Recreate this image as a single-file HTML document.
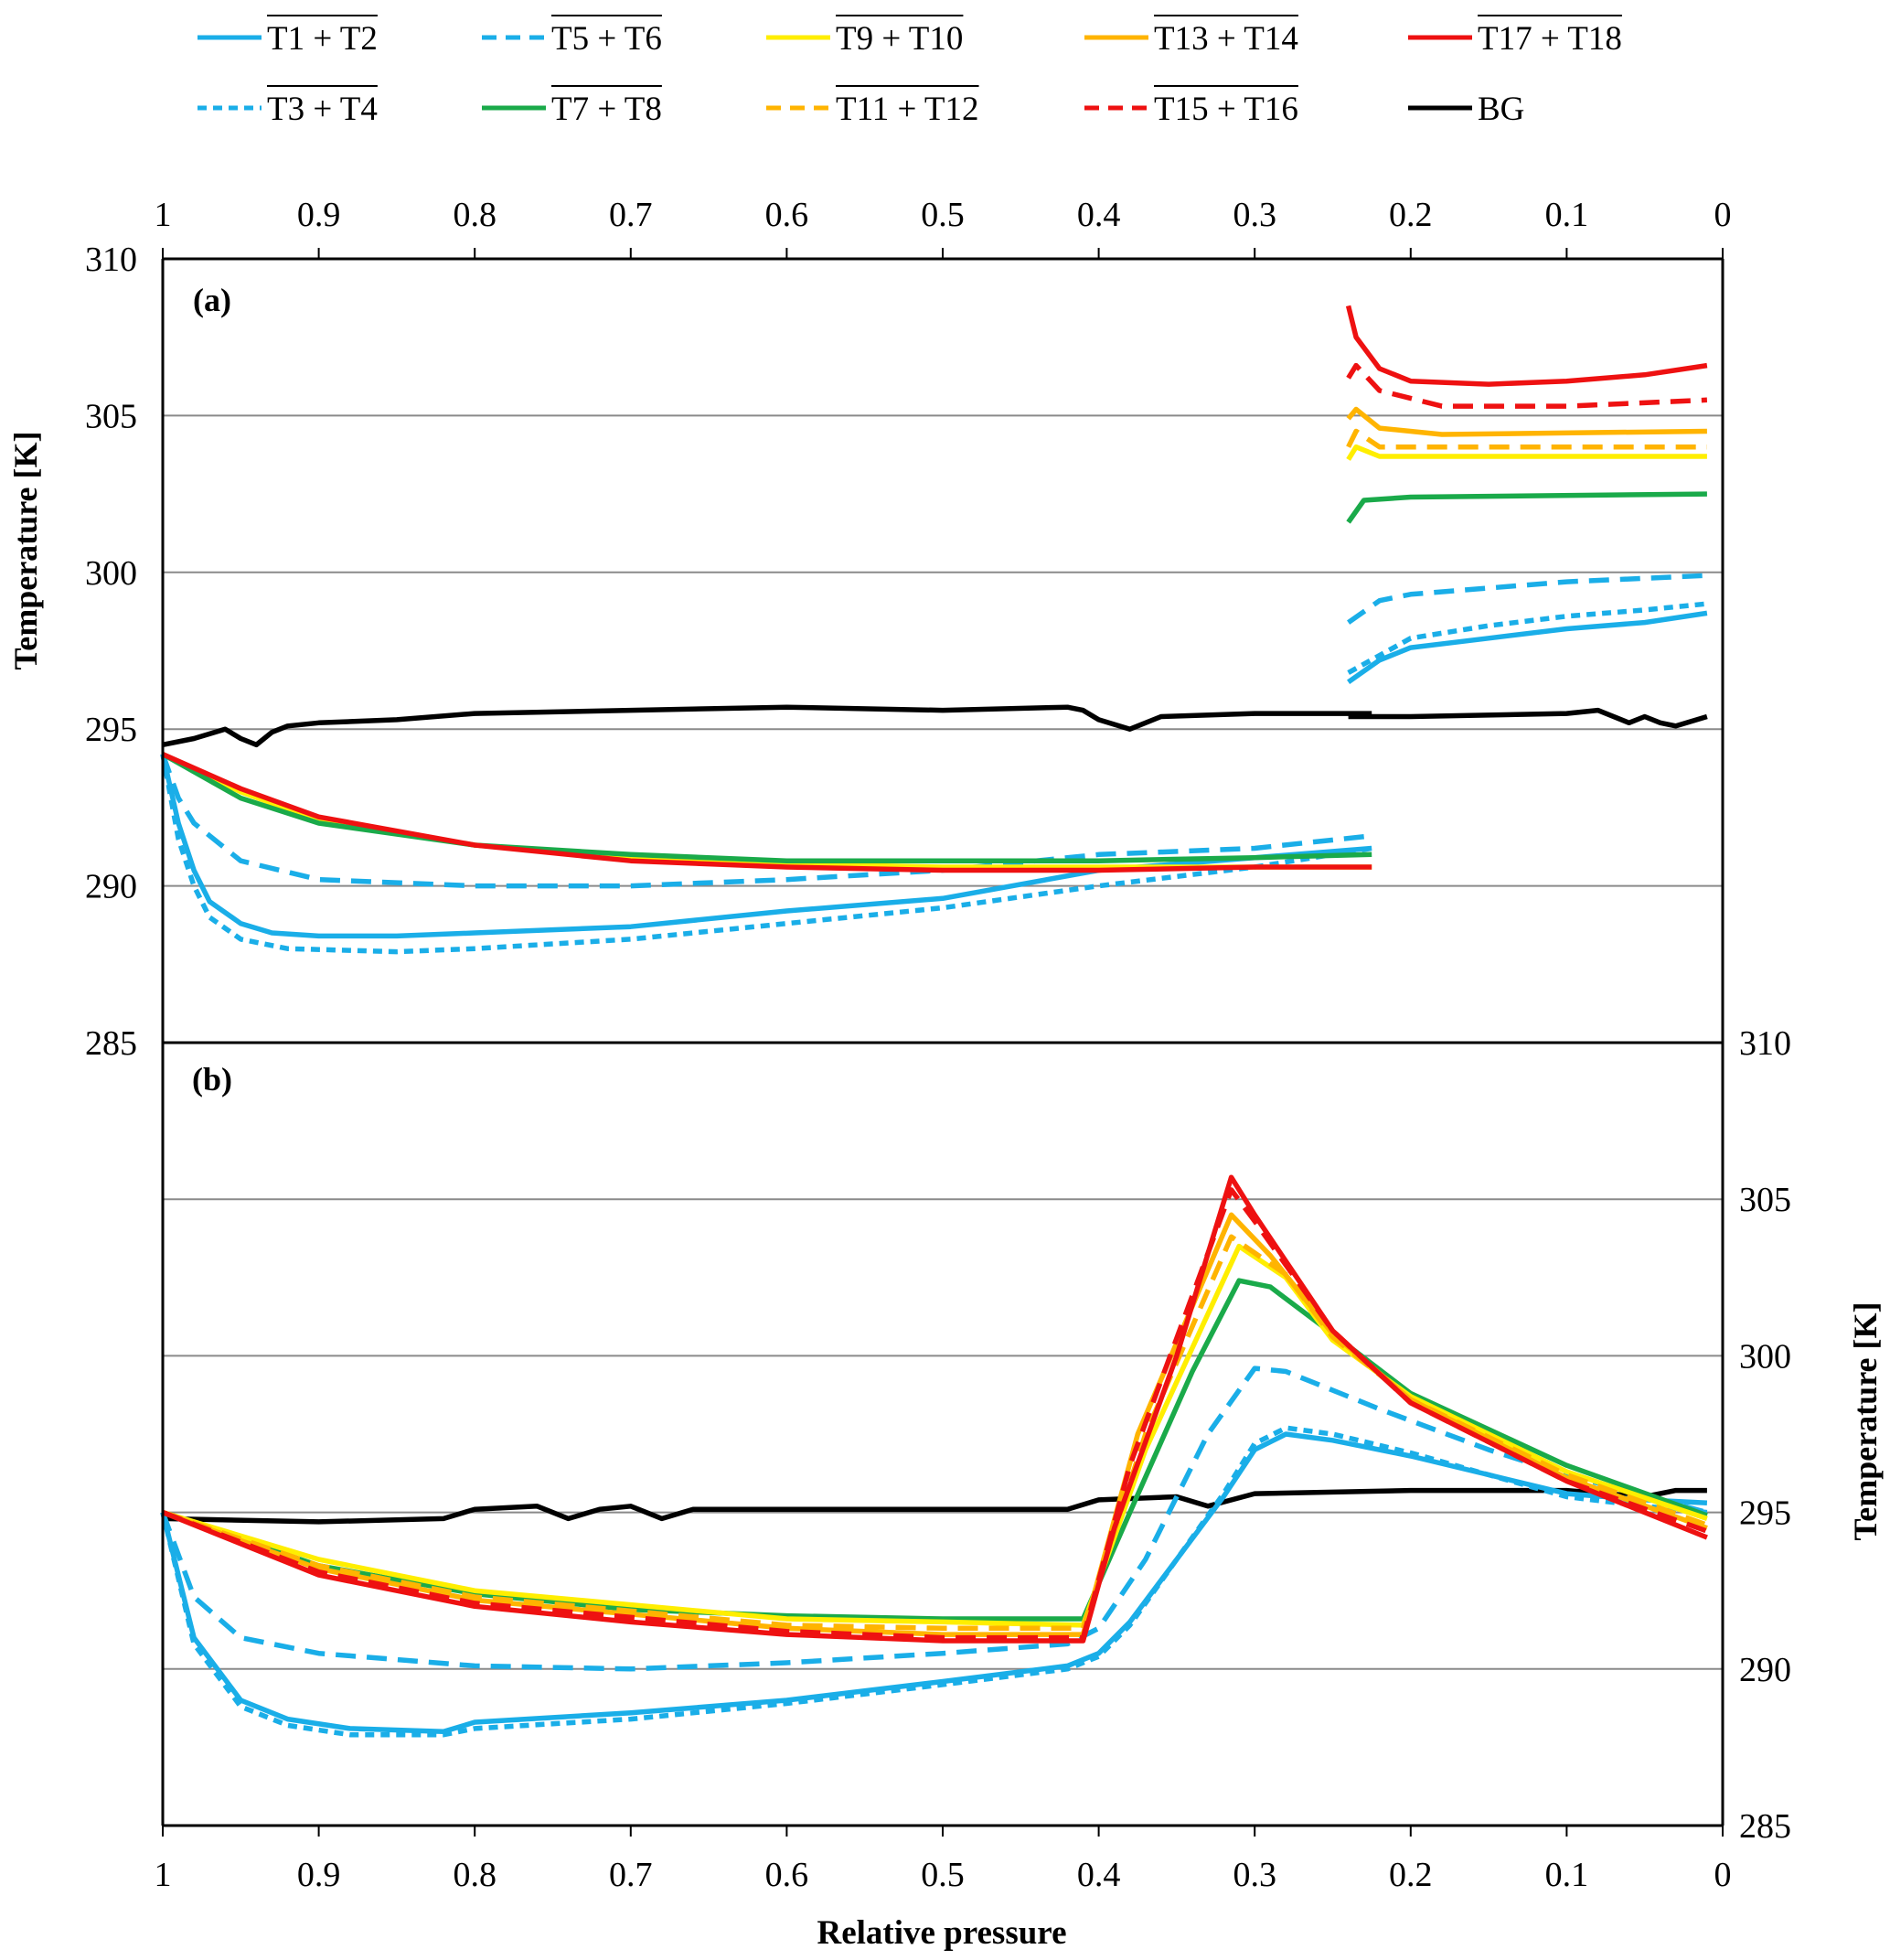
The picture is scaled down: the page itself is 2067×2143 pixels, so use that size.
<!DOCTYPE html>
<html><head><meta charset="utf-8"><style>
body{margin:0;background:#fff}
svg{display:block;font-family:"Liberation Serif",serif}
</style></head><body>
<svg id="c" width="2067" height="2143" viewBox="0 0 2067 2143"></svg>
<script>
// ---- data: relative pressure (p) and temperature (T) ----
const pressureTicks=[1,0.9,0.8,0.7,0.6,0.5,0.4,0.3,0.2,0.1,0];
const tempTicks=[285,290,295,300,305,310];
// Panel (a)
const a_bg1_p=[1,0.98,0.96,0.95,0.94,0.93,0.92,0.9,0.85,0.8,0.7,0.6,0.5,0.42,0.41,0.4,0.38,0.36,0.3,0.225];
const a_bg1_T=[294.5,294.7,295.0,294.7,294.5,294.9,295.1,295.2,295.3,295.5,295.6,295.7,295.6,295.7,295.6,295.3,295.0,295.4,295.5,295.5];
const a_bg2_p=[0.24,0.2,0.1,0.08,0.06,0.05,0.04,0.03,0.01];
const a_bg2_T=[295.4,295.4,295.5,295.6,295.2,295.4,295.2,295.1,295.4];
const a_t12_p=[1,0.99,0.98,0.97,0.95,0.93,0.9,0.85,0.8,0.7,0.6,0.5,0.4,0.3,0.225];
const a_t12_T=[294.2,292,290.5,289.5,288.8,288.5,288.4,288.4,288.5,288.7,289.2,289.6,290.5,290.9,291.2];
const a_t12b_p=[0.24,0.22,0.2,0.15,0.1,0.05,0.01];
const a_t12b_T=[296.5,297.2,297.6,297.9,298.2,298.4,298.7];
const a_t34_p=[1,0.99,0.98,0.97,0.95,0.92,0.85,0.8,0.7,0.6,0.5,0.4,0.3,0.225];
const a_t34_T=[294.2,291.5,290,289,288.3,288.0,287.9,288.0,288.3,288.8,289.3,290.0,290.6,291.2];
const a_t34b_p=[0.24,0.2,0.15,0.1,0.05,0.01];
const a_t34b_T=[296.8,297.9,298.3,298.6,298.8,299.0];
const a_t56_p=[1,0.99,0.98,0.95,0.9,0.8,0.7,0.6,0.5,0.4,0.3,0.225];
const a_t56_T=[294.2,292.8,292,290.8,290.2,290.0,290.0,290.2,290.5,291.0,291.2,291.6];
const a_t56b_p=[0.24,0.22,0.2,0.1,0.01];
const a_t56b_T=[298.4,299.1,299.3,299.7,299.9];
const a_t78_p=[1,0.95,0.9,0.8,0.7,0.6,0.5,0.4,0.3,0.225];
const a_t78_T=[294.2,292.8,292.0,291.3,291.0,290.8,290.8,290.8,290.9,291.0];
const a_t78b_p=[0.24,0.23,0.2,0.01];
const a_t78b_T=[301.6,302.3,302.4,302.5];
const a_t910_p=[1,0.95,0.9,0.8,0.7,0.6,0.5,0.4,0.3,0.225];
const a_t910_T=[294.2,293.0,292.1,291.3,290.9,290.7,290.6,290.6,290.6,290.6];
const a_t910b_p=[0.24,0.235,0.22,0.01];
const a_t910b_T=[303.6,304.0,303.7,303.7];
const a_t1112b_p=[0.24,0.235,0.22,0.01];
const a_t1112b_T=[304.0,304.5,304.0,304.0];
const a_t1314b_p=[0.24,0.235,0.22,0.18,0.01];
const a_t1314b_T=[304.9,305.2,304.6,304.4,304.5];
const a_t1516b_p=[0.24,0.235,0.22,0.18,0.1,0.01];
const a_t1516b_T=[306.2,306.6,305.8,305.3,305.3,305.5];
const a_t1718_p=[1,0.95,0.9,0.8,0.7,0.6,0.5,0.4,0.3,0.225];
const a_t1718_T=[294.2,293.1,292.2,291.3,290.8,290.6,290.5,290.5,290.6,290.6];
const a_t1718b_p=[0.24,0.235,0.22,0.2,0.15,0.1,0.05,0.01];
const a_t1718b_T=[308.5,307.5,306.5,306.1,306.0,306.1,306.3,306.6];
// Panel (b)
const b_bg_p=[1,0.9,0.82,0.8,0.76,0.74,0.72,0.7,0.68,0.66,0.5,0.42,0.4,0.35,0.33,0.3,0.2,0.1,0.05,0.03,0.01];
const b_bg_T=[294.8,294.7,294.8,295.1,295.2,294.8,295.1,295.2,294.8,295.1,295.1,295.1,295.4,295.5,295.2,295.6,295.7,295.7,295.5,295.7,295.7];
const b_t12_p=[1,0.98,0.95,0.92,0.88,0.82,0.8,0.7,0.6,0.5,0.42,0.4,0.38,0.35,0.32,0.3,0.28,0.25,0.2,0.15,0.1,0.05,0.01];
const b_t12_T=[295,291,289,288.4,288.1,288.0,288.3,288.6,289.0,289.6,290.1,290.5,291.5,293.5,295.5,297,297.5,297.3,296.8,296.2,295.6,295.4,295.3];
const b_t34_p=[1,0.98,0.95,0.92,0.88,0.82,0.8,0.7,0.6,0.5,0.42,0.4,0.38,0.35,0.32,0.3,0.28,0.25,0.2,0.15,0.1,0.05,0.01];
const b_t34_T=[295,290.8,288.8,288.2,287.9,287.9,288.1,288.4,288.9,289.5,290.0,290.4,291.4,293.5,295.6,297.2,297.7,297.5,296.9,296.2,295.5,295.2,295.0];
const b_t56_p=[1,0.98,0.95,0.9,0.8,0.7,0.6,0.5,0.42,0.4,0.37,0.33,0.3,0.28,0.22,0.15,0.1,0.01];
const b_t56_T=[295,292.3,291,290.5,290.1,290.0,290.2,290.5,290.8,291.3,293.5,297.5,299.6,299.5,298.3,297,296.2,295];
const b_t78_p=[1,0.9,0.8,0.7,0.6,0.5,0.41,0.38,0.34,0.31,0.29,0.25,0.2,0.1,0.01];
const b_t78_T=[295,293.3,292.4,291.9,291.7,291.6,291.6,295,299.5,302.4,302.2,300.7,298.8,296.5,294.9];
const b_t910_p=[1,0.9,0.8,0.6,0.5,0.41,0.37,0.31,0.28,0.25,0.2,0.1,0.01];
const b_t910_T=[295,293.5,292.5,291.6,291.5,291.4,297,303.5,302.5,300.5,298.7,296.3,294.8];
const b_t1112_p=[1,0.9,0.8,0.6,0.5,0.41,0.37,0.315,0.28,0.25,0.2,0.1,0.01];
const b_t1112_T=[295,293.3,292.3,291.4,291.3,291.3,297.5,303.8,302.6,300.6,298.6,296.2,294.6];
const b_t1314_p=[1,0.9,0.8,0.6,0.5,0.41,0.375,0.315,0.29,0.25,0.2,0.1,0.01];
const b_t1314_T=[295,293.2,292.2,291.3,291.1,291.1,297.5,304.5,303.2,300.7,298.6,296.1,294.5];
const b_t1516_p=[1,0.9,0.8,0.6,0.5,0.41,0.38,0.315,0.3,0.25,0.2,0.1,0.01];
const b_t1516_T=[295,293.1,292.1,291.2,291.0,291.0,296.5,305.3,304.3,300.8,298.5,296.0,294.4];
const b_t1718_p=[1,0.9,0.8,0.7,0.6,0.5,0.41,0.39,0.35,0.315,0.3,0.25,0.2,0.1,0.01];
const b_t1718_T=[295,293,292,291.5,291.1,290.9,290.9,294.5,300,305.7,304.5,300.8,298.5,296,294.2];

const NS="http://www.w3.org/2000/svg";
const svg=document.getElementById('c');
const X0=178,X1=1884,A0=283,A1=1140,B0=1140,B1=1996;
const xs=p=>X0+(1-p)*(X1-X0);
const ya=T=>A0+(310-T)/25*(A1-A0);
const yb=T=>B0+(310-T)/25*(B1-B0);
function el(tag,attrs,parent){const e=document.createElementNS(NS,tag);for(const k in attrs)e.setAttribute(k,attrs[k]);(parent||svg).appendChild(e);return e;}
function txt(s,x,y,size,anchor,weight){const t=el('text',{x:x,y:y,'font-size':size,'text-anchor':anchor||'middle','font-weight':weight||'normal'});t.textContent=s;return t;}

const C_DASH="22 12",C_DOT="10 7";
for(const T of [290,295,300,305]){
  const g=el('line',{x1:X0,x2:X1,y1:ya(T),y2:ya(T),stroke:'#8a8a8a','stroke-width':2});
  
  
  const h=el('line',{x1:X0,x2:X1,y1:yb(T),y2:yb(T),stroke:'#8a8a8a','stroke-width':2});
  
  
}
function series(P,T,yf,color,dash,name,w){
  const d=P.map((p,i)=>(i?'L':'M')+xs(p).toFixed(1)+','+yf(T[i]).toFixed(1)).join('');
  const a={d:d,fill:'none',stroke:color,'stroke-width':w||5.5,'stroke-linejoin':'round'};
  if(dash)a['stroke-dasharray']=dash;
  const e=el('path',a);
  
  
}
const BL='#1aaee8',GR='#1aaa4a',YE='#ffee00',OR='#ffb400',RD='#ee1111',BK='#000';
series(a_bg1_p,a_bg1_T,ya,BK,'', 'a-bg-line');
series(a_bg2_p,a_bg2_T,ya,BK,'', 'a-bg-line-2');
series(a_t56_p,a_t56_T,ya,BL,C_DASH,'a-t5-t6');
series(a_t56b_p,a_t56b_T,ya,BL,C_DASH,'a-t5-t6-2');
series(a_t34_p,a_t34_T,ya,BL,C_DOT,'a-t3-t4');
series(a_t34b_p,a_t34b_T,ya,BL,C_DOT,'a-t3-t4-2');
series(a_t12_p,a_t12_T,ya,BL,'', 'a-t1-t2');
series(a_t12b_p,a_t12b_T,ya,BL,'', 'a-t1-t2-2');
series(a_t910_p,a_t910_T,ya,YE,'', 'a-t9-t10');
series(a_t910b_p,a_t910b_T,ya,YE,'', 'a-t9-t10-2');
series(a_t78_p,a_t78_T,ya,GR,'', 'a-t7-t8');
series(a_t78b_p,a_t78b_T,ya,GR,'', 'a-t7-t8-2');
series(a_t1112b_p,a_t1112b_T,ya,OR,C_DASH,'a-t11-t12');
series(a_t1314b_p,a_t1314b_T,ya,OR,'', 'a-t13-t14');
series(a_t1516b_p,a_t1516b_T,ya,RD,C_DASH,'a-t15-t16');
series(a_t1718_p,a_t1718_T,ya,RD,'', 'a-t17-t18');
series(a_t1718b_p,a_t1718b_T,ya,RD,'', 'a-t17-t18-2');
series(b_bg_p,b_bg_T,yb,BK,'', 'b-bg-line');
series(b_t56_p,b_t56_T,yb,BL,C_DASH,'b-t5-t6');
series(b_t34_p,b_t34_T,yb,BL,C_DOT,'b-t3-t4');
series(b_t12_p,b_t12_T,yb,BL,'', 'b-t1-t2');
series(b_t78_p,b_t78_T,yb,GR,'', 'b-t7-t8');
series(b_t910_p,b_t910_T,yb,YE,'', 'b-t9-t10');
series(b_t1112_p,b_t1112_T,yb,OR,C_DASH,'b-t11-t12');
series(b_t1314_p,b_t1314_T,yb,OR,'', 'b-t13-t14');
series(b_t1516_p,b_t1516_T,yb,RD,C_DASH,'b-t15-t16');
series(b_t1718_p,b_t1718_T,yb,RD,'', 'b-t17-t18');

for(const [x1,y1,x2,y2,n] of [[X0,A0,X1,A0,'top-axis'],[X0,A0,X0,B1,'left-axis'],[X1,A0,X1,B1,'right-axis'],[X0,A1,X1,A1,'panel-divider'],[X0,B1,X1,B1,'bottom-axis']]){
  const l=el('line',{x1:x1,y1:y1,x2:x2,y2:y2,stroke:'#000','stroke-width':3});
  
  
}
pressureTicks.forEach(p=>{
  el('line',{x1:xs(p),x2:xs(p),y1:A0-12,y2:A0,stroke:'#000','stroke-width':2});
  el('line',{x1:xs(p),x2:xs(p),y1:B1,y2:B1+12,stroke:'#000','stroke-width':2});
  const t1=txt(String(p),xs(p),247,38);
  
  
  const t2=txt(String(p),xs(p),2062,38);
  
  
});
tempTicks.forEach(T=>{
  const t1=txt(String(T),150,ya(T)+13,38,'end');
  
  
  const t2=txt(String(T),1902,yb(T)+13,38,'start');
  
  
});
let t;
t=txt('(a)',232,340,36,'middle','bold');


t=txt('(b)',232,1192,36,'middle','bold');


t=txt('Relative pressure',1030,2125,37,'middle','bold');


t=txt('Temperature  [K]',0,0,36,'middle','bold');
t.setAttribute('transform','translate(40,602) rotate(-90)');


t=txt('Temperature  [K]',0,0,36,'middle','bold');
t.setAttribute('transform','translate(2052,1554) rotate(-90)');



const legNames=['T1 + T2','T5 + T6','T9 + T10','T13 + T14','T17 + T18','T3 + T4','T7 + T8','T11 + T12','T15 + T16','BG'];
const legColors=[BL,BL,YE,OR,RD,BL,GR,OR,RD,BK];
const legDash=['',C_DASH,'','','',C_DOT,'',C_DASH,C_DASH,''];
const colX=[216,527,838,1186,1540];
legNames.forEach((n,i)=>{
  const cx=colX[i%5],cy=i<5?41:118;
  const g=el('g',{});
  
  
  const a={x1:cx,x2:cx+70,y1:cy,y2:cy,stroke:legColors[i],'stroke-width':5};
  if(legDash[i])a['stroke-dasharray']=i==5?'10 7':'16 10';
  el('line',a,g);
  const tx=el('text',{x:cx+76,y:cy+13,'font-size':37},g);
  tx.textContent=n;
  if(n!=='BG'){
    const w=tx.getComputedTextLength?tx.getComputedTextLength():n.length*17;
    el('line',{x1:cx+76,x2:cx+76+w,y1:cy-24,y2:cy-24,stroke:'#000','stroke-width':2},g);
  }
});
</script>
</body></html>
